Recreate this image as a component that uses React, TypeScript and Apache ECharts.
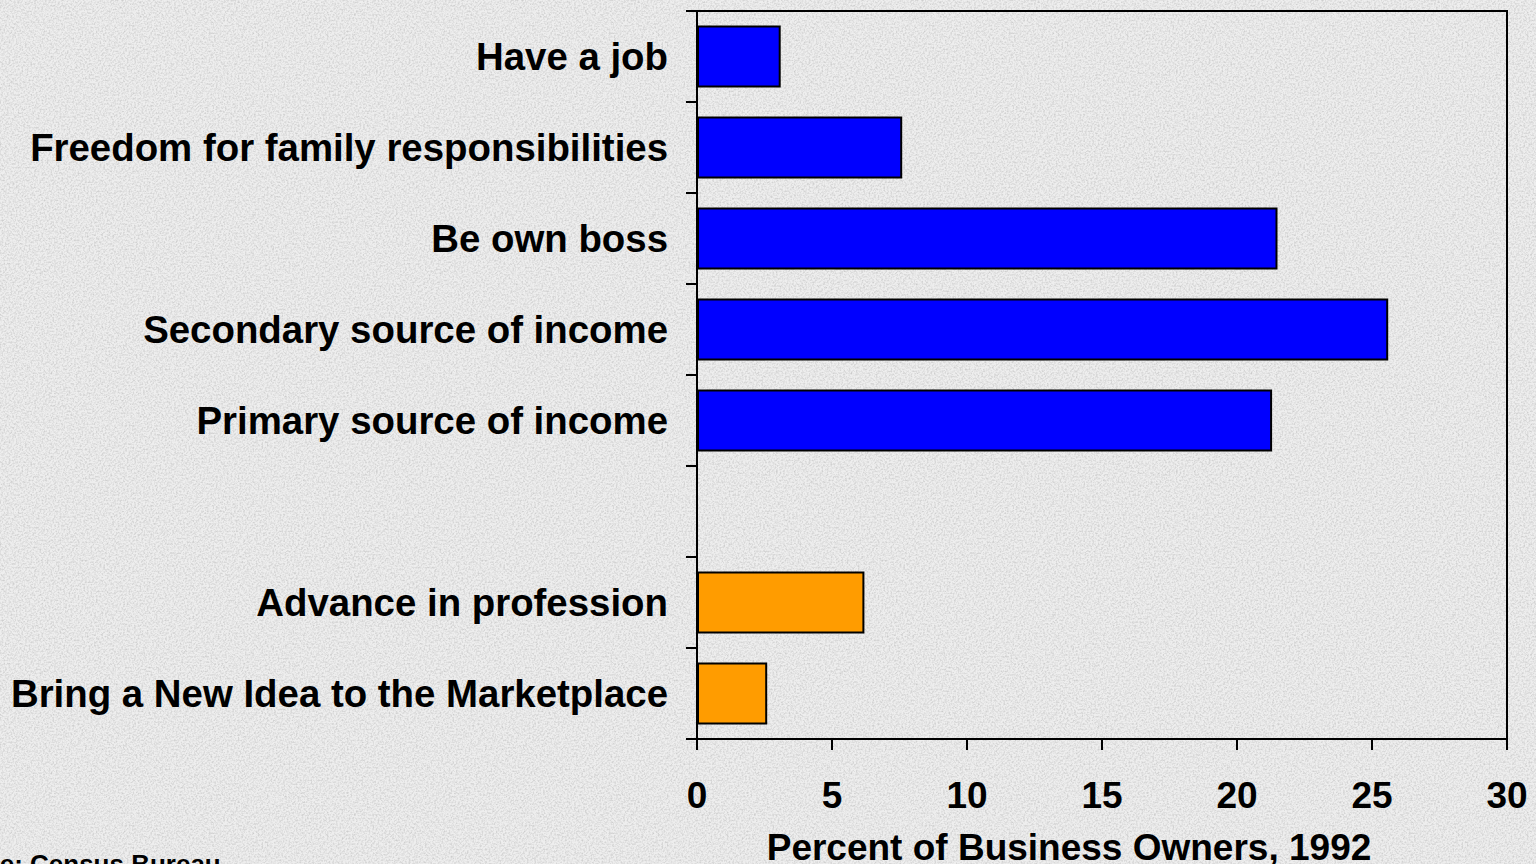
import React, { useEffect, useRef } from "react";
import * as echarts from "echarts";

const categories = [
  "Have a job",
  "Freedom for family responsibilities",
  "Be own boss",
  "Secondary source of income",
  "Primary source of income",
  "",
  "Advance in profession",
  "Bring a New Idea to the Marketplace",
];
const blueValues: (number | string)[] = [3.1, 7.6, 21.5, 25.6, 21.3, "-", "-", "-"];
const orangeValues: (number | string)[] = ["-", "-", "-", "-", "-", "-", 6.2, 2.6];
const xTicks = [0, 5, 10, 15, 20, 25, 30];
const xAxisTitle = "Percent of Business Owners, 1992";
const sourceNote = "Source: Census Bureau";

const noiseSvg =
  "<svg xmlns='http://www.w3.org/2000/svg' width='400' height='400'>" +
  "<filter id='n'><feTurbulence type='fractalNoise' baseFrequency='0.55' numOctaves='3' stitchTiles='stitch'/>" +
  "<feColorMatrix values='0 0 0 0 0.55  0 0 0 0 0.55  0 0 0 0 0.55  1.6 0 0 0 -0.62'/></filter>" +
  "<rect width='100%' height='100%' filter='url(%23n)'/></svg>";
const bgStyle = `url("data:image/svg+xml;utf8,${noiseSvg}"), #eeeeee`;

export default function App() {
  const ref = useRef<HTMLDivElement>(null);
  useEffect(() => {
    document.body.style.margin = "0";
    const chart = echarts.init(ref.current!, null, { renderer: "svg" });
    const font = "'Liberation Sans', Arial, sans-serif";
    chart.setOption({
      animation: false,
      backgroundColor: "transparent",
      textStyle: { fontFamily: font },
      grid: {
        left: 697,
        top: 11,
        width: 810,
        height: 728,
        outerBoundsMode: "none",
        containLabel: false,
        show: true,
        borderColor: "#000",
        borderWidth: 2,
        backgroundColor: "transparent",
      },
      xAxis: {
        type: "value",
        min: xTicks[0],
        max: xTicks[xTicks.length - 1],
        interval: 5,
        splitLine: { show: false },
        axisLine: { show: true, lineStyle: { color: "#000", width: 2 } },
        axisTick: { show: true, length: 11, lineStyle: { color: "#000", width: 2 } },
        axisLabel: {
          color: "#000",
          fontSize: 37,
          fontWeight: "bold",
          fontFamily: font,
          margin: 38,
        },
      },
      yAxis: {
        type: "category",
        data: categories,
        inverse: true,
        axisLine: { show: true, lineStyle: { color: "#000", width: 2 } },
        axisTick: { show: true, length: 11, lineStyle: { color: "#000", width: 2 } },
        axisLabel: {
          color: "#000",
          fontSize: 38.4,
          fontWeight: "bold",
          fontFamily: font,
          margin: 29,
        },
      },
      series: [
        {
          type: "bar",
          data: blueValues,
          stack: "all",
          barCategoryGap: "32%",
          itemStyle: { color: "#0000ff", borderColor: "#000", borderWidth: 2 },
        },
        {
          type: "bar",
          data: orangeValues,
          stack: "all",
          barCategoryGap: "32%",
          itemStyle: { color: "#ff9c00", borderColor: "#000", borderWidth: 2 },
        },
      ],
      graphic: [
        {
          type: "text",
          x: 1069,
          y: 847,
          style: {
            text: xAxisTitle,
            fill: "#000",
            font: `bold 37px ${font}`,
            textAlign: "center",
            textVerticalAlign: "middle",
          },
        },
        {
          type: "text",
          x: -74,
          y: 851,
          style: {
            text: sourceNote,
            fill: "#000",
            font: `bold 26px ${font}`,
            textAlign: "left",
            textVerticalAlign: "top",
          },
        },
      ],
    });
    return () => chart.dispose();
  }, []);
  return <div ref={ref} style={{ width: 1536, height: 864, background: bgStyle }} />;
}
